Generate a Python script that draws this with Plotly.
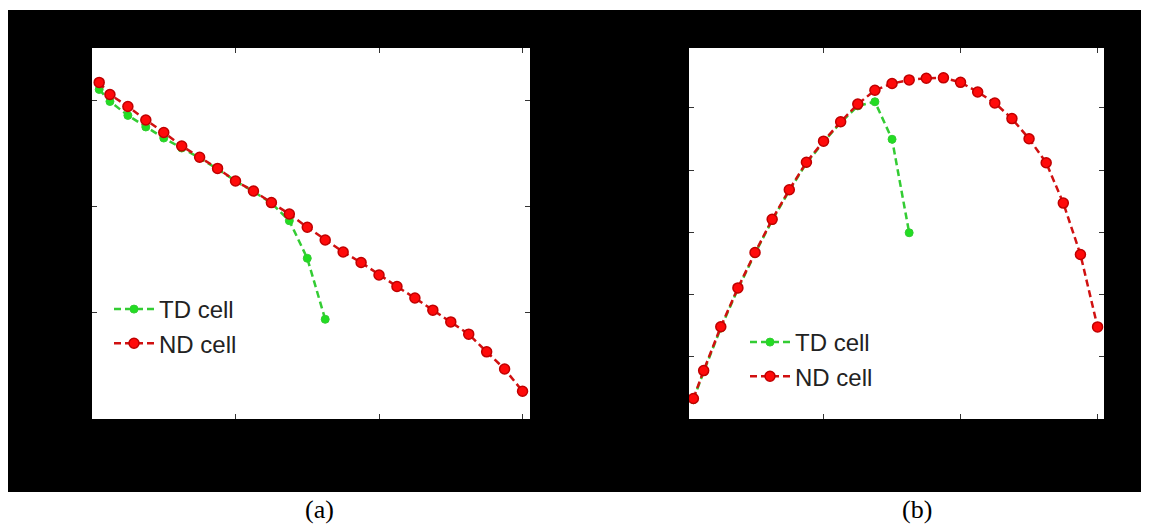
import plotly.graph_objects as go

# ---------------- data ----------------
x_vals = [0.05, 0.125, 0.25, 0.375, 0.5, 0.625, 0.75, 0.875, 1.0, 1.125, 1.25, 1.375, 1.5,
          1.625, 1.75, 1.875, 2.0, 2.125, 2.25, 2.375, 2.5, 2.625, 2.75, 2.875, 3.0]

# panel (a)
nd_a = [3.166, 3.053, 2.940, 2.813, 2.695, 2.568, 2.462, 2.357, 2.239, 2.145, 2.036, 1.928, 1.804,
        1.684, 1.571, 1.472, 1.355, 1.246, 1.138, 1.024, 0.913, 0.798, 0.632, 0.470, 0.261]
td_a = [3.100, 2.987, 2.856, 2.747, 2.643, 2.549, 2.455, 2.352, 2.239, 2.140, 2.032, 1.865, 1.512,
        0.938]

# panel (b)
nd_b = [0.330, 0.778, 1.482, 2.106, 2.675, 3.207, 3.682, 4.125, 4.463, 4.775, 5.059, 5.281, 5.389,
        5.447, 5.474, 5.481, 5.408, 5.254, 5.077, 4.826, 4.503, 4.116, 3.469, 2.643, 1.479]
td_b = [0.310, 0.760, 1.460, 2.090, 2.660, 3.190, 3.670, 4.110, 4.450, 4.760, 5.030, 5.096, 4.494,
        2.992]

series_names = ["TD cell", "ND cell"]
panel_labels = ["(a)", "(b)"]

# ---------------- style ----------------
W, H = 1149, 524
GREEN = "#22dd22"
GREEN_LINE = "#33cc33"
RED = "#ff0a0a"
RED_LINE = "#d01010"


def px_x(p):
    return p / W


def px_y(p):
    return 1 - p / H


fig = go.Figure()

for xa, ya, leg in [("x", "y", "legend"), ("x2", "y2", "legend2")]:
    td = td_a if xa == "x" else td_b
    nd = nd_a if xa == "x" else nd_b
    fig.add_trace(go.Scatter(
        x=x_vals[:len(td)], y=td, name=series_names[0], mode="lines+markers",
        xaxis=xa, yaxis=ya, legend=leg,
        line=dict(color=GREEN_LINE, width=2.5, dash="7px,4px"),
        marker=dict(symbol="circle", size=8, color=GREEN, line=dict(color=GREEN_LINE, width=1)),
    ))
    fig.add_trace(go.Scatter(
        x=x_vals[:len(nd)], y=nd, name=series_names[1], mode="lines+markers",
        xaxis=xa, yaxis=ya, legend=leg,
        line=dict(color=RED_LINE, width=2.5, dash="7px,4px"),
        marker=dict(symbol="circle", size=10, color=RED, line=dict(color="#c00000", width=1.5)),
    ))

axis_common = dict(
    showgrid=False, zeroline=False, showticklabels=False,
    ticks="inside", ticklen=5, tickwidth=1, tickcolor="#333333",
    showline=True, linecolor="black", linewidth=1, mirror="ticks",
    dtick=1, tick0=0,
)

legend_font = dict(family="Liberation Sans, Arial", size=24, color="#222222")
yd = [px_y(419), px_y(48)]
fig.update_layout(
    width=W, height=H,
    margin=dict(l=0, r=0, t=0, b=0),
    paper_bgcolor="white", plot_bgcolor="white",
    showlegend=True,
    xaxis=dict(domain=[px_x(92), px_x(530)], range=[0, 3.052], anchor="y", **axis_common),
    yaxis=dict(domain=yd, range=[0, 3.49], anchor="x", **axis_common),
    xaxis2=dict(domain=[px_x(689), px_x(1104)], range=[0.018, 3.047], anchor="y2", **axis_common),
    yaxis2=dict(domain=yd, range=[0, 5.96], anchor="x2", **axis_common),
    legend=dict(x=px_x(109), y=px_y(287), xanchor="left", yanchor="top", itemwidth=40,
                bgcolor="rgba(0,0,0,0)", borderwidth=0, font=legend_font),
    legend2=dict(x=px_x(745), y=px_y(320), xanchor="left", yanchor="top", itemwidth=40,
                 bgcolor="rgba(0,0,0,0)", borderwidth=0, font=legend_font),
    shapes=[
        dict(type="rect", xref="paper", yref="paper", x0=px_x(8), x1=px_x(1141),
             y0=px_y(492), y1=px_y(10), fillcolor="black", line=dict(width=0), layer="below"),
        dict(type="rect", xref="x domain", yref="y domain", x0=0, x1=1, y0=0, y1=1,
             fillcolor="white", line=dict(width=0), layer="below"),
        dict(type="rect", xref="x2 domain", yref="y2 domain", x0=0, x1=1, y0=0, y1=1,
             fillcolor="white", line=dict(width=0), layer="below"),
    ],
    annotations=[
        dict(text=panel_labels[0], x=px_x(319), y=px_y(509), xref="paper", yref="paper",
             showarrow=False, xanchor="center", yanchor="middle",
             font=dict(family="Liberation Serif, Times New Roman", size=26, color="black")),
        dict(text=panel_labels[1], x=px_x(917), y=px_y(509), xref="paper", yref="paper",
             showarrow=False, xanchor="center", yanchor="middle",
             font=dict(family="Liberation Serif, Times New Roman", size=26, color="black")),
    ],
)

fig.write_html("out.html")
